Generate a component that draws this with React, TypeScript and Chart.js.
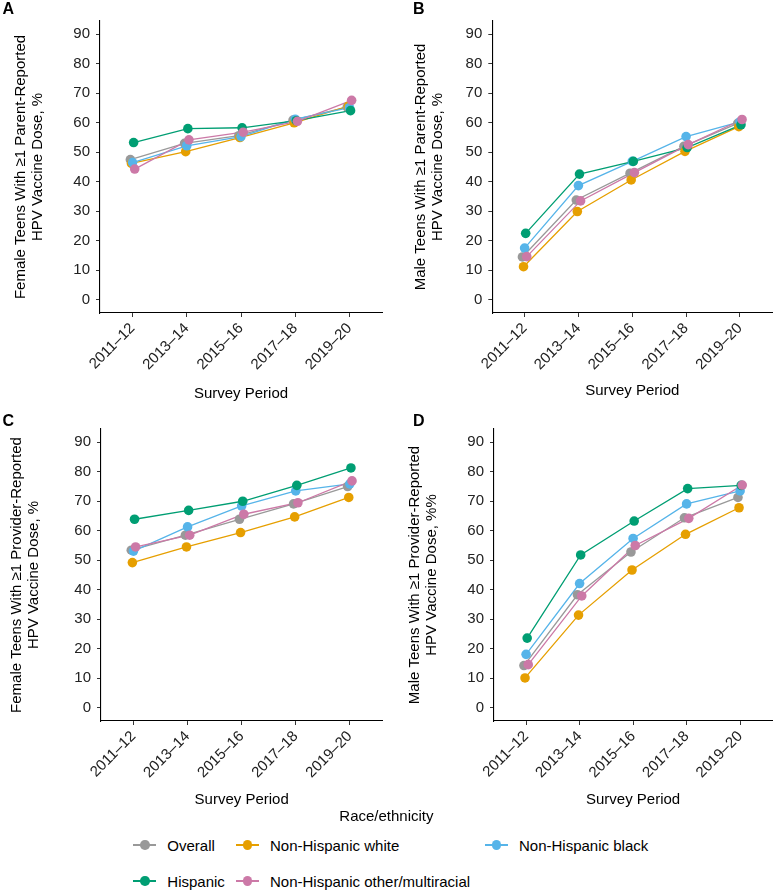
import React, { useEffect, useRef } from "react";
import { Chart, registerables } from "chart.js";

Chart.register(...registerables);

// ---------- data ----------
const CATEGORIES = ["2011–12", "2013–14", "2015–16", "2017–18", "2019–20"];
const SERIES_NAMES = [
  "Overall",
  "Non-Hispanic white",
  "Non-Hispanic black",
  "Hispanic",
  "Non-Hispanic other/multiracial",
];
const SERIES_COLORS = ["#999999", "#E69F00", "#56B4E9", "#009E73", "#CC79A7"];
const Y_TICKS = [0, 10, 20, 30, 40, 50, 60, 70, 80, 90];

// Panel A: female, parent-reported
const A_OVERALL = [47.5, 53.0, 55.6, 60.9, 65.3];
const A_WHITE = [46.2, 50.2, 55.0, 60.0, 65.6];
const A_BLACK = [46.5, 52.2, 55.3, 61.2, 65.1];
const A_HISPANIC = [53.3, 58.0, 58.3, 60.7, 64.1];
const A_OTHER = [44.3, 54.2, 56.8, 60.5, 67.6];

// Panel B: male, parent-reported
const B_OVERALL = [14.5, 33.8, 42.9, 52.0, 59.8];
const B_WHITE = [11.2, 29.9, 40.6, 50.3, 58.7];
const B_BLACK = [17.5, 38.7, 46.9, 55.3, 60.3];
const B_HISPANIC = [22.5, 42.6, 46.9, 51.6, 59.3];
const B_OTHER = [14.6, 33.5, 43.1, 52.6, 61.1];

// Panel C: female, provider-reported
const C_OVERALL = [53.4, 58.5, 63.9, 69.1, 75.0];
const C_WHITE = [49.2, 54.5, 59.4, 64.7, 71.3];
const C_BLACK = [53.1, 61.3, 68.4, 73.5, 75.9];
const C_HISPANIC = [63.9, 66.9, 70.0, 75.4, 81.3];
const C_OTHER = [54.5, 58.5, 65.6, 69.5, 76.9];

// Panel D: male, provider-reported
const D_OVERALL = [14.3, 38.3, 52.8, 64.4, 71.3];
const D_WHITE = [10.1, 31.4, 46.7, 58.8, 67.8];
const D_BLACK = [18.1, 42.1, 57.4, 69.1, 73.5];
const D_HISPANIC = [23.6, 51.8, 63.3, 74.3, 75.4];
const D_OTHER = [14.6, 37.9, 55.0, 64.2, 75.5];

const X_TITLE = "Survey Period";
const LEGEND_TITLE = "Race/ethnicity";

// ---------- styling / layout ----------
const FONT = "'Liberation Sans', Arial, Helvetica, sans-serif";
const FONT_SIZE = 15;
const LINE_H = 17;
const CHART_TOP = 21;
const CHART_BOTTOM = 313;
const DODGE_WIDTH = 0.1;

type Panel = {
  letter: string;
  left: number;
  top: number;
  width: number;
  height: number;
  chartLeft: number;
  chartRight: number;
  yTitle: string[];
  yTitleX: number;
  xTitleY: number;
  letterLeft: number;
  letterTop: number;
  series: number[][];
};

const PANELS: Panel[] = [
  {
    letter: "A",
    left: 0,
    top: 0,
    width: 388,
    height: 408,
    chartLeft: 100,
    chartRight: 382,
    yTitle: ["Female Teens With ≥1 Parent-Reported", "HPV Vaccine Dose, %"],
    yTitleX: 20.5,
    xTitleY: 394,
    letterLeft: 2.5,
    letterTop: 1.2,
    series: [A_OVERALL, A_WHITE, A_BLACK, A_HISPANIC, A_OTHER],
  },
  {
    letter: "B",
    left: 390,
    top: 0,
    width: 387,
    height: 408,
    chartLeft: 102.3,
    chartRight: 385,
    yTitle: ["Male Teens With ≥1 Parent-Reported", "HPV Vaccine Dose, %"],
    yTitleX: 30.5,
    xTitleY: 390.7,
    letterLeft: 413,
    letterTop: 1.2,
    series: [B_OVERALL, B_WHITE, B_BLACK, B_HISPANIC, B_OTHER],
  },
  {
    letter: "C",
    left: 0,
    top: 408,
    width: 388,
    height: 408,
    chartLeft: 101,
    chartRight: 382.3,
    yTitle: ["Female Teens With ≥1 Provider-Reported", "HPV Vaccine Dose, %"],
    yTitleX: 17,
    xTitleY: 392,
    letterLeft: 2.5,
    letterTop: 413,
    series: [C_OVERALL, C_WHITE, C_BLACK, C_HISPANIC, C_OTHER],
  },
  {
    letter: "D",
    left: 390,
    top: 408,
    width: 387,
    height: 408,
    chartLeft: 104,
    chartRight: 385.7,
    yTitle: ["Male Teens With ≥1 Provider-Reported", "HPV Vaccine Dose, %%"],
    yTitleX: 25.3,
    xTitleY: 392,
    letterLeft: 413,
    letterTop: 412.5,
    series: [D_OVERALL, D_WHITE, D_BLACK, D_HISPANIC, D_OTHER],
  },
];

function dodge(s: number): number {
  const n = SERIES_NAMES.length;
  return ((s - (n - 1) / 2) / n) * DODGE_WIDTH;
}

function PanelChart({ p }: { p: Panel }) {
  const ref = useRef<HTMLCanvasElement | null>(null);

  useEffect(() => {
    if (!ref.current) return;
    const n = SERIES_NAMES.length;
    const lineSets = p.series.map((vals, s) => ({
      label: SERIES_NAMES[s] + " line",
      data: vals.map((v, i) => ({ x: i + dodge(s), y: v })),
      borderColor: SERIES_COLORS[s],
      backgroundColor: SERIES_COLORS[s],
      borderWidth: 1.3,
      pointRadius: 0,
      pointHoverRadius: 0,
      fill: false,
      tension: 0,
      order: 100 + (n - 1 - s),
    }));
    const pointSets = p.series.map((vals, s) => ({
      label: SERIES_NAMES[s],
      data: vals.map((v, i) => ({ x: i + dodge(s), y: v })),
      showLine: false,
      borderColor: SERIES_COLORS[s],
      backgroundColor: SERIES_COLORS[s],
      pointBackgroundColor: SERIES_COLORS[s],
      pointBorderWidth: 0,
      pointRadius: 4.8,
      pointHoverRadius: 4.8,
      order: n - 1 - s,
    }));

    const font = { family: FONT, size: FONT_SIZE, lineHeight: LINE_H / FONT_SIZE };
    const h = p.height;

    const chart = new Chart(ref.current, {
      type: "line",
      data: { datasets: [...lineSets, ...pointSets] as any },
      options: {
        animation: false,
        responsive: false,
        maintainAspectRatio: false,
        events: [],
        layout: {
          padding: { left: 0, top: CHART_TOP, right: p.width - p.chartRight, bottom: 0 },
        },
        plugins: {
          legend: { display: false },
          tooltip: { enabled: false },
        },
        scales: {
          x: {
            type: "linear",
            min: -0.6,
            max: CATEGORIES.length - 1 + 0.6,
            afterBuildTicks: (s: any) => {
              s.ticks = CATEGORIES.map((_, i) => ({ value: i }));
            },
            afterFit: (s: any) => {
              s.height = h - CHART_BOTTOM;
              s.paddingLeft = 0;
              s.paddingRight = 0;
            },
            ticks: {
              autoSkip: false,
              minRotation: 45,
              maxRotation: 45,
              padding: 3,
              color: "#222",
              font,
              callback: (v: any) => CATEGORIES[Math.round(Number(v))] ?? "",
            },
            grid: {
              display: true,
              drawOnChartArea: false,
              drawTicks: true,
              tickLength: 4,
              color: "#333",
              lineWidth: 1,
            },
            border: { display: true, color: "#000", width: 1.1 },
            title: {
              display: true,
              text: X_TITLE,
              color: "#000",
              font,
              padding: { top: 0, bottom: h - LINE_H / 2 - p.xTitleY },
            },
          },
          y: {
            type: "linear",
            min: -4.5,
            max: 94.5,
            afterBuildTicks: (s: any) => {
              s.ticks = Y_TICKS.map((v) => ({ value: v }));
            },
            afterFit: (s: any) => {
              s.width = p.chartLeft;
              s.paddingTop = 0;
              s.paddingBottom = 0;
            },
            ticks: {
              padding: 6,
              color: "#222",
              font,
              callback: (v: any) => String(v),
            },
            grid: {
              display: true,
              drawOnChartArea: false,
              drawTicks: true,
              tickLength: 4,
              color: "#333",
              lineWidth: 1,
            },
            border: { display: true, color: "#000", width: 1.1 },
            title: {
              display: true,
              text: p.yTitle,
              color: "#000",
              font,
              padding: { top: p.yTitleX - LINE_H / 2, bottom: 0 },
            },
          },
        },
      } as any,
    });
    return () => chart.destroy();
  }, [p]);

  return (
    <canvas
      ref={ref}
      width={p.width}
      height={p.height}
      style={{
        position: "absolute",
        left: p.left,
        top: p.top,
        width: p.width,
        height: p.height,
      }}
    />
  );
}

// legend layout (positions only)
const LEGEND_COLS = [133.3, 236, 485];
const LEGEND_ROWS = [845, 881];
const LEGEND_TITLE_X = 339.3;
const LEGEND_TITLE_Y = 815.5;

function Legend() {
  const textStyle: React.CSSProperties = {
    position: "absolute",
    fontFamily: FONT,
    fontSize: FONT_SIZE,
    lineHeight: LINE_H + "px",
    color: "#000",
    whiteSpace: "nowrap",
  };
  return (
    <>
      <div style={{ ...textStyle, left: LEGEND_TITLE_X, top: LEGEND_TITLE_Y - 8.5 }}>
        {LEGEND_TITLE}
      </div>
      {SERIES_NAMES.map((name, s) => {
        const col = s % 3;
        const row = Math.floor(s / 3);
        const kx = LEGEND_COLS[col];
        const ky = LEGEND_ROWS[row];
        return (
          <React.Fragment key={name}>
            <div
              style={{
                position: "absolute",
                left: kx,
                top: ky - 0.65,
                width: 23,
                height: 1.3,
                background: SERIES_COLORS[s],
              }}
            />
            <div
              style={{
                position: "absolute",
                left: kx + 11.5 - 4.8,
                top: ky - 4.8,
                width: 9.6,
                height: 9.6,
                borderRadius: "50%",
                background: SERIES_COLORS[s],
              }}
            />
            <div style={{ ...textStyle, left: kx + 34, top: ky - 8.5 }}>{name}</div>
          </React.Fragment>
        );
      })}
    </>
  );
}

export default function App() {
  return (
    <div
      style={{
        position: "absolute",
        left: 0,
        top: 0,
        width: 777,
        height: 891,
        background: "#fff",
        overflow: "hidden",
      }}
    >
      {PANELS.map((p) => (
        <PanelChart key={p.letter} p={p} />
      ))}
      {PANELS.map((p) => (
        <div
          key={p.letter + "-label"}
          style={{
            position: "absolute",
            left: p.letterLeft,
            top: p.letterTop,
            fontFamily: FONT,
            fontWeight: "bold",
            fontSize: 16,
            lineHeight: "16px",
            color: "#000",
          }}
        >
          {p.letter}
        </div>
      ))}
      <Legend />
    </div>
  );
}
